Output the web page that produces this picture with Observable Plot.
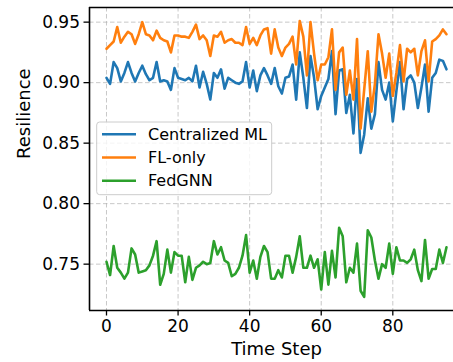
<!DOCTYPE html>
<html>
<head>
<meta charset="utf-8">
<script src="https://cdn.jsdelivr.net/npm/d3@7"></script>
<script src="https://cdn.jsdelivr.net/npm/@observablehq/plot@0.6"></script>
<style>
  html, body { margin: 0; padding: 0; background: white; }
  #chart { position: relative; width: 453px; height: 362px; overflow: hidden; }
</style>
</head>
<body>
<div id="chart"></div>
<script>
const seriesNames = ["Centralized ML", "FL-only", "FedGNN"];
const seriesColors = ["#1f77b4", "#ff7f0e", "#2ca02c"];
const xTicks = [0, 20, 40, 60, 80];
const yTicks = [0.75, 0.80, 0.85, 0.90, 0.95];
const xLabel = "Time Step";
const yLabel = "Resilience";

const centralized = [
  0.904,0.899,0.917,0.912,0.901,0.908,0.917,0.908,0.901,0.908,
  0.914,0.907,0.902,0.904,0.917,0.901,0.902,0.901,0.894,0.912,
  0.904,0.903,0.902,0.904,0.901,0.914,0.896,0.909,0.899,0.886,
  0.908,0.904,0.911,0.895,0.904,0.902,0.900,0.899,0.901,0.917,
  0.896,0.910,0.893,0.906,0.912,0.906,0.899,0.912,0.897,0.891,
  0.904,0.905,0.915,0.886,0.925,0.904,0.879,0.922,0.904,0.878,
  0.889,0.896,0.903,0.926,0.874,0.910,0.911,0.875,0.890,0.858,
  0.903,0.842,0.857,0.887,0.862,0.874,0.917,0.894,0.886,0.900,
  0.868,0.893,0.917,0.878,0.903,0.906,0.900,0.879,0.896,0.915,
  0.876,0.904,0.908,0.919,0.918,0.911
];
const flOnly = [
  0.928,0.931,0.934,0.946,0.933,0.938,0.942,0.940,0.932,0.940,
  0.950,0.940,0.939,0.935,0.943,0.937,0.935,0.934,0.925,0.939,
  0.939,0.938,0.938,0.937,0.942,0.948,0.936,0.939,0.935,0.922,
  0.939,0.938,0.942,0.933,0.935,0.936,0.933,0.933,0.931,0.946,
  0.932,0.937,0.931,0.939,0.944,0.945,0.924,0.944,0.929,0.922,
  0.929,0.932,0.938,0.915,0.951,0.938,0.906,0.950,0.924,0.902,
  0.915,0.915,0.921,0.944,0.894,0.925,0.929,0.890,0.910,0.886,
  0.936,0.862,0.894,0.926,0.876,0.899,0.940,0.924,0.904,0.924,
  0.889,0.908,0.931,0.901,0.928,0.925,0.928,0.906,0.926,0.935,
  0.901,0.934,0.936,0.939,0.944,0.940
];
const fedGNN = [
  0.752,0.741,0.765,0.747,0.743,0.738,0.743,0.763,0.758,0.743,
  0.744,0.745,0.749,0.757,0.769,0.733,0.742,0.762,0.743,0.760,
  0.757,0.757,0.735,0.756,0.737,0.747,0.749,0.752,0.750,0.751,
  0.769,0.758,0.764,0.753,0.751,0.740,0.742,0.747,0.757,0.774,
  0.743,0.753,0.738,0.756,0.765,0.760,0.738,0.738,0.745,0.739,
  0.757,0.757,0.743,0.756,0.773,0.747,0.747,0.757,0.747,0.754,
  0.729,0.760,0.733,0.761,0.739,0.780,0.773,0.735,0.747,0.743,
  0.767,0.728,0.723,0.778,0.772,0.753,0.738,0.750,0.747,0.767,
  0.742,0.764,0.753,0.753,0.751,0.754,0.762,0.745,0.736,0.770,
  0.738,0.746,0.746,0.762,0.751,0.764
];
const timeSteps = centralized.map((_, i) => i);

const allSeries = [centralized, flOnly, fedGNN];
const rows = [];
allSeries.forEach((vals, s) => vals.forEach((v, i) => rows.push({step: timeSteps[i], value: v, series: seriesNames[s]})));

const xDomain = [-4.75, 96.96];
const yDomain = [0.7117, 0.9621];
const gridStyle = {stroke: "#b0b0b0", strokeOpacity: 0.7, strokeWidth: 1, strokeDasharray: "4.5,2.5"};

const chart = Plot.plot({
  width: 453,
  height: 362,
  marginLeft: 89,
  marginRight: 0,
  marginTop: 7,
  marginBottom: 52,
  style: {fontFamily: "DejaVu Sans", fontSize: "17px", color: "black", background: "white"},
  x: {domain: xDomain, label: null},
  y: {domain: yDomain, label: null},
  color: {domain: seriesNames, range: seriesColors},
  marks: [
    Plot.gridX(xTicks, gridStyle),
    Plot.gridY(yTicks, gridStyle),
    ...seriesNames.map(name => Plot.lineY(rows.filter(d => d.series === name), {
      x: "step", y: "value", stroke: "series", strokeWidth: 2.6, strokeLinejoin: "round"
    })),
    Plot.axisX({ticks: xTicks, tickSize: 5.5, tickPadding: 4, strokeWidth: 1.3, fontSize: 17, label: null}),
    Plot.axisY({ticks: yTicks, tickFormat: d3.format(".2f"), tickSize: 5.5, tickPadding: 4, strokeWidth: 1.3, fontSize: 17, label: null}),
    Plot.ruleY([yDomain[1]], {stroke: "black", strokeWidth: 1.6}),
    Plot.ruleY([yDomain[0]], {stroke: "black", strokeWidth: 1.6}),
    Plot.ruleX([xDomain[0]], {stroke: "black", strokeWidth: 1.6}),
    Plot.text([xLabel], {frameAnchor: "bottom", lineAnchor: "middle", dy: 39, dx: 5, fontSize: 18, fill: "black"}),
    Plot.text([yLabel], {frameAnchor: "left", lineAnchor: "middle", dx: -65, rotate: -90, fontSize: 18, fill: "black"})
  ]
});

document.getElementById("chart").appendChild(chart);

// legend
const svg = d3.select(chart);
const lg = svg.append("g")
  .attr("font-family", "DejaVu Sans").attr("font-size", 16).attr("text-anchor", "start");
lg.append("rect")
  .attr("x", 96.7).attr("y", 122).attr("width", 175).attr("height", 72.7)
  .attr("rx", 3).attr("fill", "white").attr("fill-opacity", 0.8)
  .attr("stroke", "#cccccc").attr("stroke-width", 1);
const rowY = [134.3, 157.5, 180.7];
seriesNames.forEach((name, i) => {
  lg.append("line").attr("x1", 102).attr("x2", 136).attr("y1", rowY[i]).attr("y2", rowY[i])
    .attr("stroke", seriesColors[i]).attr("stroke-width", 2.6);
  lg.append("text").attr("x", 148).attr("y", rowY[i]).attr("dy", "0.35em")
    .attr("text-anchor", "start").attr("fill", "black").text(name);
});
</script>
</body>
</html>
